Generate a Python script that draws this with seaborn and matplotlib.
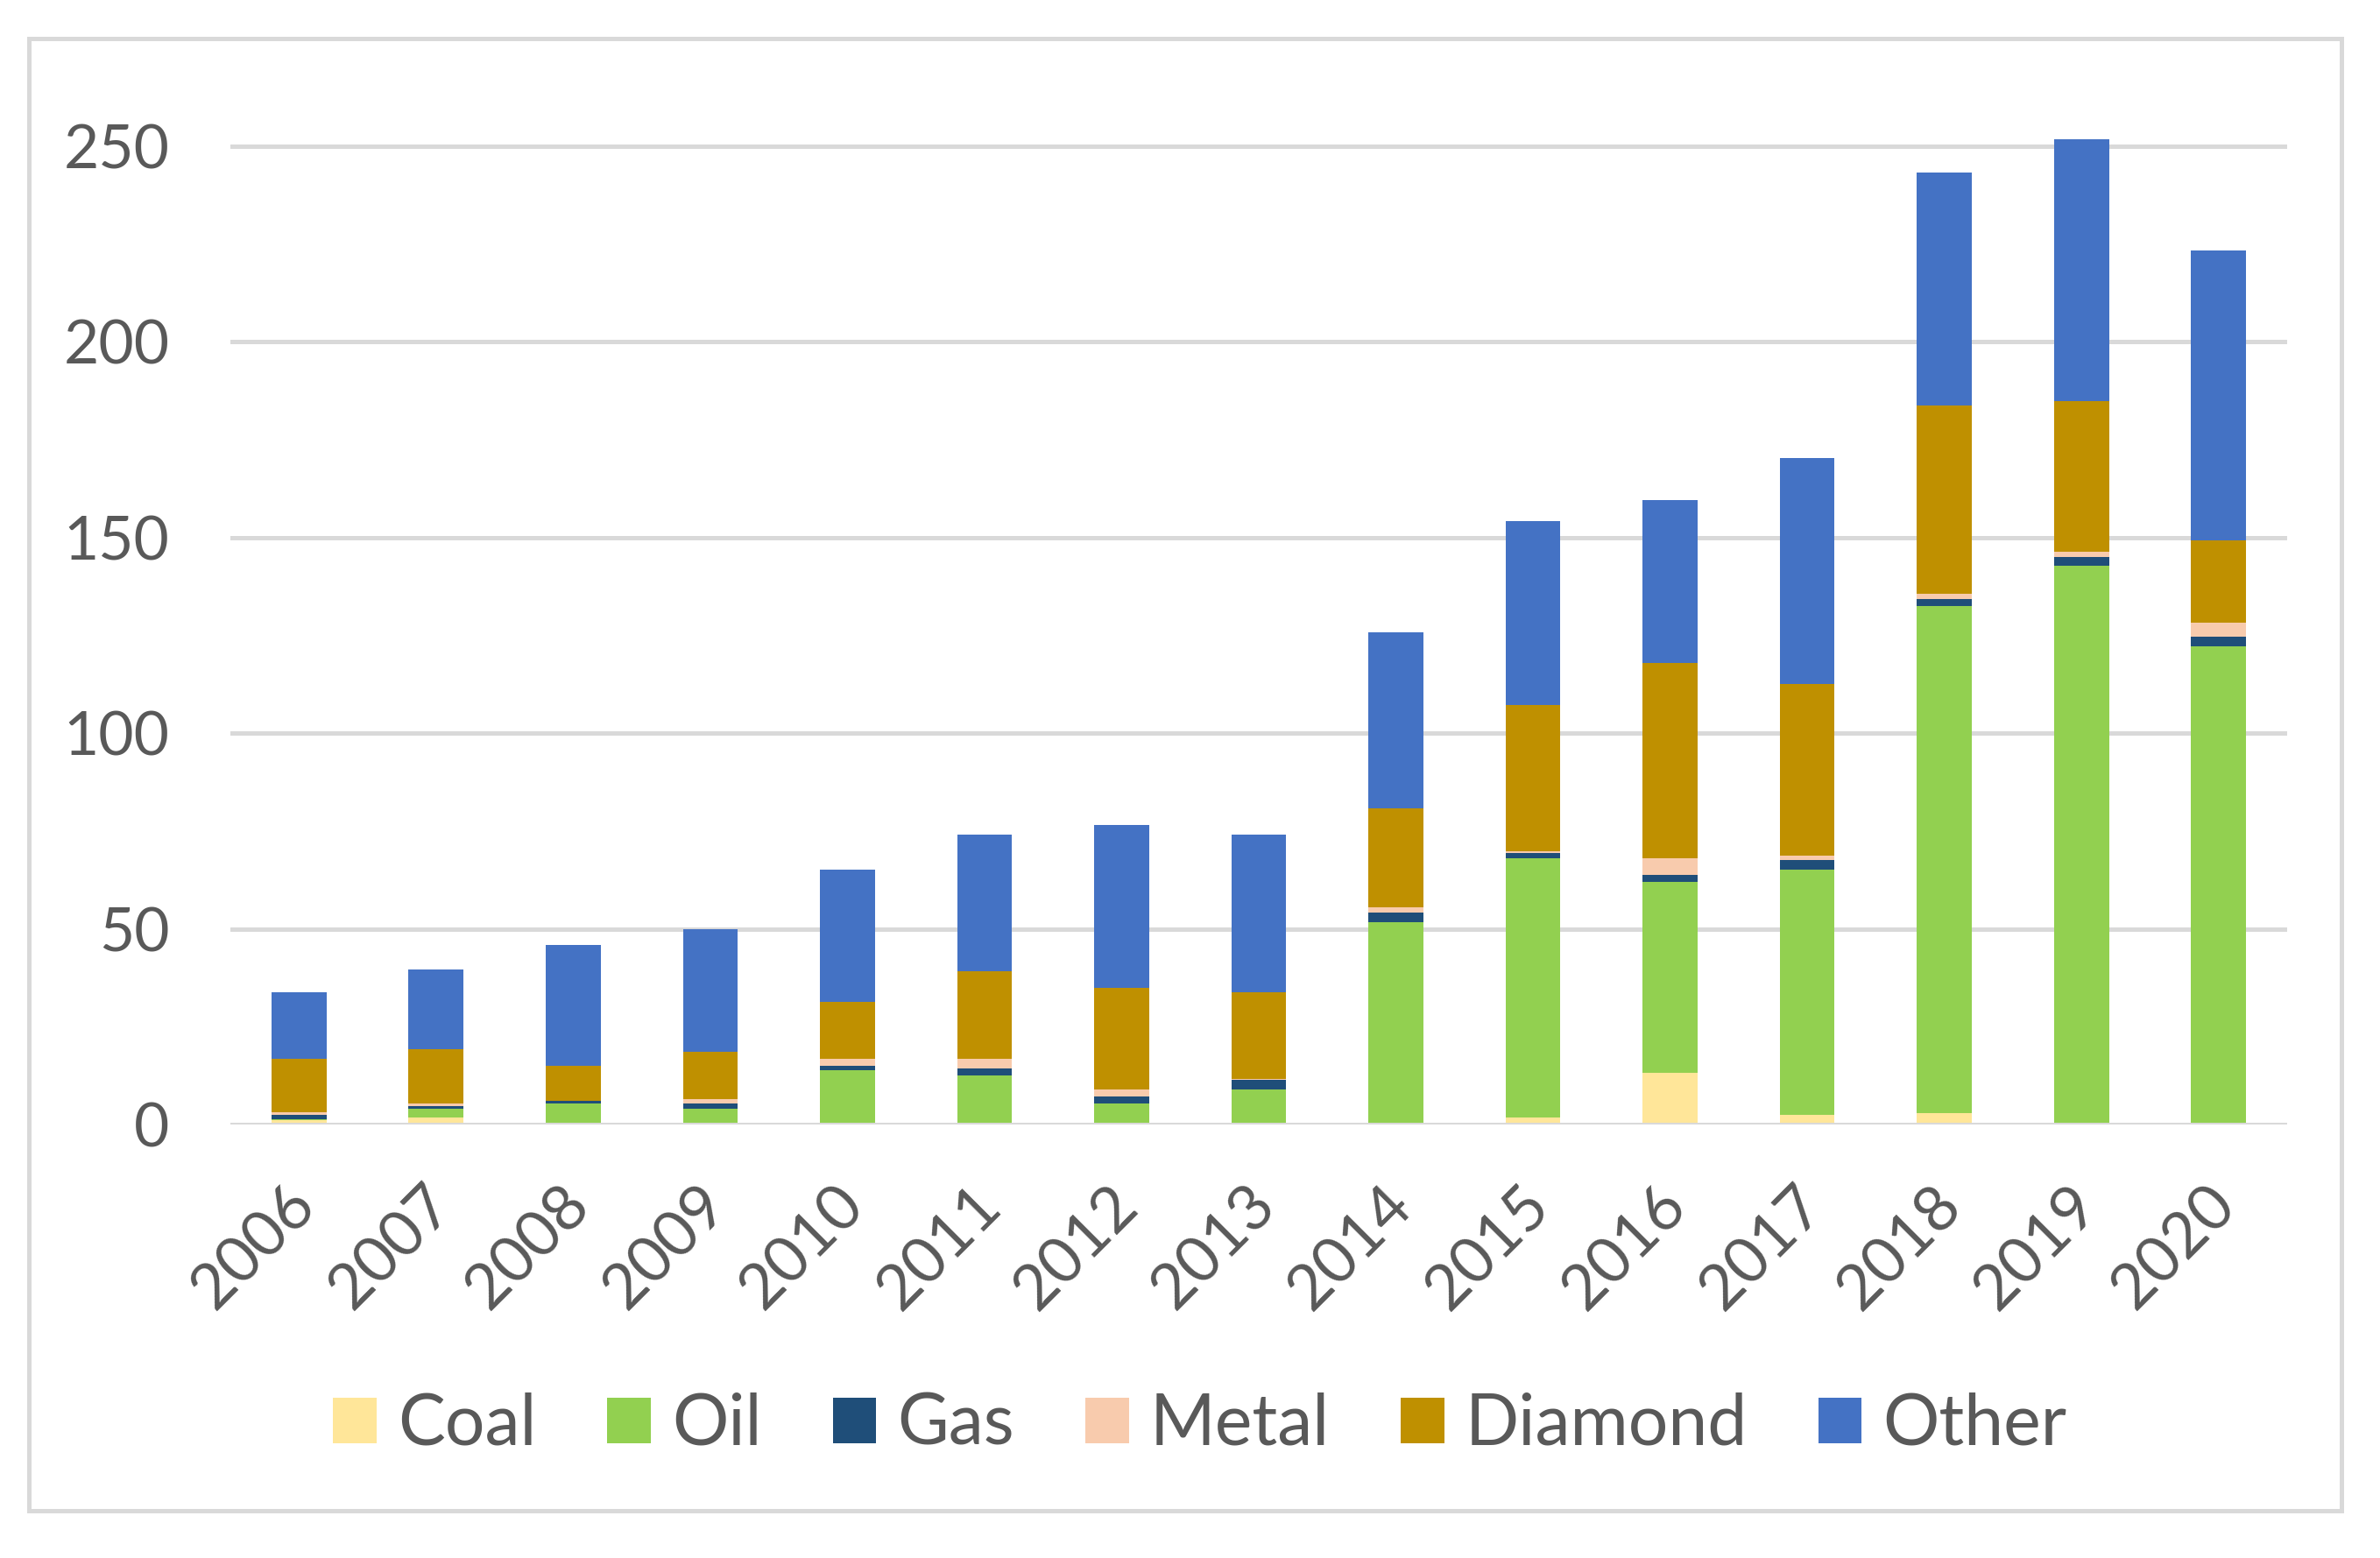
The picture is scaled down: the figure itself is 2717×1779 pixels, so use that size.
import matplotlib
matplotlib.use("Agg")
import matplotlib.pyplot as plt
import matplotlib.transforms as mtransforms
from matplotlib.patches import Patch, Rectangle
import numpy as np
import pandas as pd
import seaborn as sns

years = ["2006", "2007", "2008", "2009", "2010", "2011", "2012", "2013",
         "2014", "2015", "2016", "2017", "2018", "2019", "2020"]
coal    = [1.2, 1.7, 0.0, 0.0, 0.0, 0.0, 0.0, 0.0, 0.0, 1.8, 13.2, 2.4, 3.0, 0.0, 0.0]
oil     = [0.1, 2.4, 5.4, 4.1, 13.8, 12.6, 5.4, 9.0, 51.8, 66.3, 48.9, 62.7, 129.5, 142.7, 122.2]
gas     = [1.2, 0.7, 0.6, 1.3, 1.2, 1.7, 1.8, 2.4, 2.4, 1.2, 1.7, 2.4, 1.8, 2.4, 2.4]
metal   = [0.6, 0.6, 0.1, 1.2, 1.8, 2.5, 1.8, 0.2, 1.2, 0.6, 4.3, 1.2, 1.3, 1.2, 3.6]
diamond = [13.7, 13.9, 8.9, 12.0, 14.5, 22.4, 26.0, 22.2, 25.3, 37.3, 49.9, 43.8, 48.1, 38.6, 21.1]
other   = [16.9, 20.4, 30.8, 31.4, 33.8, 34.8, 41.5, 40.2, 45.0, 46.9, 41.5, 57.9, 59.6, 66.8, 74.1]

series_names = ["Coal", "Oil", "Gas", "Metal", "Diamond", "Other"]
series_colors = ["#FFE699", "#92D050", "#1F4E79", "#F8CBAD", "#BF9000", "#4472C4"]
yticks = [0, 50, 100, 150, 200, 250]

df = pd.DataFrame({"Year": years, "Coal": coal, "Oil": oil, "Gas": gas,
                   "Metal": metal, "Diamond": diamond, "Other": other})

sns.set_theme(style="white")
plt.rcParams["font.family"] = ["Lato", "DejaVu Sans"]

W, H = 2717, 1779
fig = plt.figure(figsize=(W / 100, H / 100), dpi=100)

y0_px = 1284      # pixel row of value 0 (from top)
px_per_unit = 4.468
ymax = 262
left_px, right_px = 263, 2611
ax = fig.add_axes([left_px / W, (H - y0_px) / H,
                   (right_px - left_px) / W, ymax * px_per_unit / H])

text_color = "#595959"
grid_color = "#D9D9D9"

cum = df[series_names].cumsum(axis=1)
# draw cumulative bars from the top layer downward
for name, color in reversed(list(zip(series_names, series_colors))):
    sns.barplot(x=df["Year"], y=cum[name], color=color, width=0.4,
                linewidth=0, saturation=1, ax=ax, zorder=2)

ax.set_ylim(0, ymax)
ax.set_xlim(-0.5, len(years) - 0.5)
ax.set_yticks(yticks)
ax.yaxis.grid(True, color=grid_color, linewidth=3.6, zorder=0)
ax.set_axisbelow(True)
ax.axhline(0, color=grid_color, linewidth=3.6, zorder=5)
for s in ax.spines.values():
    s.set_visible(False)
ax.set_xlabel("")
ax.set_ylabel("")

ax.tick_params(axis="y", length=0, pad=50, labelsize=50, labelcolor=text_color)
ax.tick_params(axis="x", length=0, pad=42, labelsize=52, labelcolor=text_color)
offset = mtransforms.ScaledTranslation(-15 / 100, 0, fig.dpi_scale_trans)
for lab in ax.get_xticklabels():
    lab.set_rotation(45)
    lab.set_ha("right")
    lab.set_va("top")
    lab.set_rotation_mode("anchor")
    lab.set_transform(lab.get_transform() + offset)

handles = [Patch(facecolor=c, edgecolor="none", label=n)
           for n, c in zip(series_names, series_colors)]
fig.legend(handles=handles, loc="center", bbox_to_anchor=(1370 / W, 1 - 1627 / H),
           ncol=6, frameon=False, fontsize=58, labelcolor=text_color,
           handlelength=0.62, handleheight=0.62, handletextpad=0.3,
           columnspacing=1.0, borderaxespad=0)

# outer chart border
bx0, by0, bx1, by1 = 33, 44, 2673, 1725
fig.patches.append(Rectangle((bx0 / W, 1 - by1 / H), (bx1 - bx0) / W, (by1 - by0) / H,
                             transform=fig.transFigure, fill=False,
                             edgecolor=grid_color, linewidth=3.6))

fig.savefig("out.png", dpi=100, facecolor="white")
